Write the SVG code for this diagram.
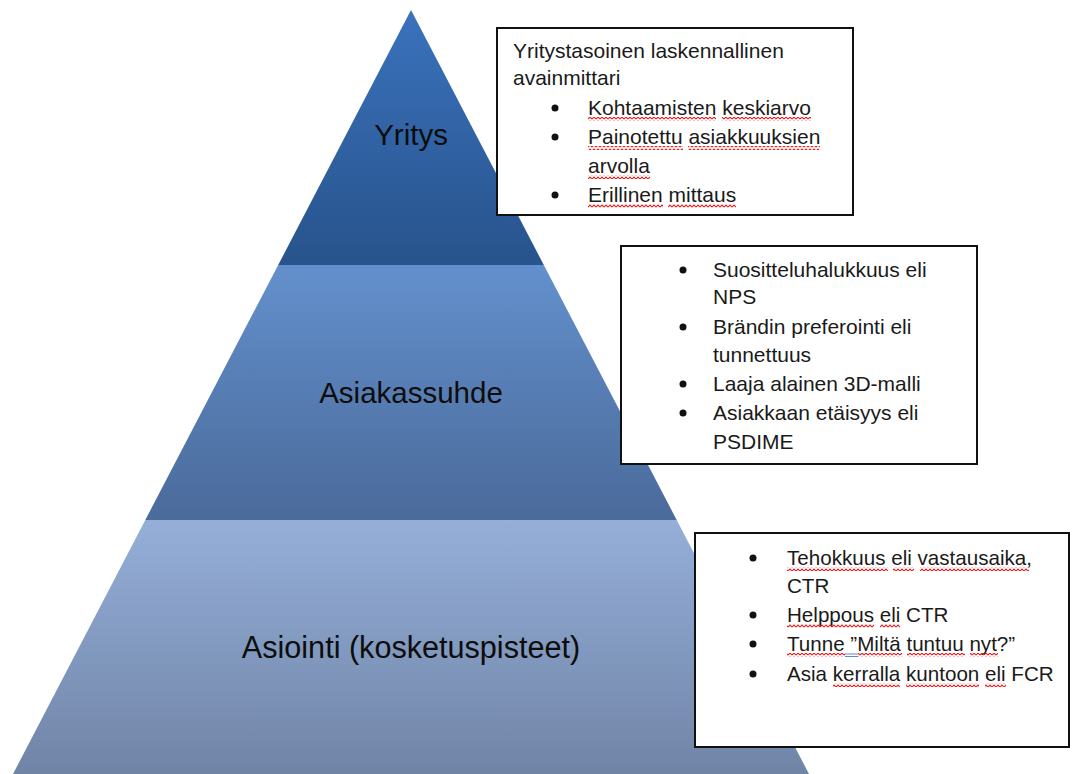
<svg xmlns="http://www.w3.org/2000/svg" width="1075" height="774" viewBox="0 0 1075 774">
  <defs>
    <linearGradient id="gTop" x1="0" y1="0" x2="0" y2="1">
      <stop offset="0" stop-color="#3a72bc"/>
      <stop offset="1" stop-color="#28538c"/>
    </linearGradient>
    <linearGradient id="gMid" x1="0" y1="0" x2="0" y2="1">
      <stop offset="0" stop-color="#6390cc"/>
      <stop offset="1" stop-color="#4a6a9a"/>
    </linearGradient>
    <linearGradient id="gBot" x1="0" y1="0" x2="0" y2="1">
      <stop offset="0" stop-color="#95afd9"/>
      <stop offset="1" stop-color="#7084a6"/>
    </linearGradient>
    <!-- red spell-check squiggle -->
    <pattern id="wavy" patternUnits="userSpaceOnUse" width="4" height="4">
      <path d="M0 3 L2 1 L4 3" fill="none" stroke="#e02424" stroke-width="1.1"/>
    </pattern>
  </defs>
  <style>
    .tier-label { font-family: "Liberation Sans", Arial, sans-serif; font-size: 29.5px; fill: #0d0d0d; text-anchor: middle; }
    .box { fill: #ffffff; stroke: #111111; stroke-width: 2; }
    .txt { font-family: "Liberation Sans", Arial, sans-serif; font-size: 21px; fill: #1a1a1a; }
    .txt-s { font-family: "Liberation Sans", Arial, sans-serif; font-size: 20.6px; fill: #1a1a1a; }
    .dot { fill: #111111; }
    .sq { fill: url(#wavy); }
    .gram { stroke: #4a7ed0; stroke-width: 0.9; }
  </style>

  <rect width="1075" height="774" fill="#ffffff"/>

  <!-- pyramid tiers -->
  <g id="tier-yritys">
    <polygon points="411,10 543.8,265 278.2,265" fill="url(#gTop)"/>
    <text class="tier-label" x="411" y="145">Yritys</text>
  </g>
  <g id="tier-asiakassuhde">
    <polygon points="278.2,265 543.8,265 676.7,520 145.3,520" fill="url(#gMid)"/>
    <text class="tier-label" x="411" y="403">Asiakassuhde</text>
  </g>
  <g id="tier-asiointi">
    <polygon points="145.3,520 676.7,520 809,774 13,774" fill="url(#gBot)"/>
    <text class="tier-label" x="411" y="658" style="font-size:30.6px">Asiointi (kosketuspisteet)</text>
  </g>

  <!-- company level metrics -->
  <g id="box-yritys">
    <rect class="box" x="497" y="28" width="356" height="187"/>
    <text class="txt" x="513" y="58">Yritystasoinen laskennallinen</text>
    <text class="txt" x="513" y="85">avainmittari</text>
    <circle class="dot" cx="555" cy="108" r="3.5"/>
    <text class="txt" x="588" y="115">Kohtaamisten keskiarvo</text>
    <circle class="dot" cx="555" cy="137" r="3.5"/>
    <text class="txt" x="588" y="144">Painotettu asiakkuuksien</text>
    <text class="txt" x="588" y="173">arvolla</text>
    <circle class="dot" cx="555" cy="195" r="3.5"/>
    <text class="txt" x="588" y="202">Erillinen mittaus</text>
    <rect class="sq" x="588" y="117" width="128" height="4"/>
    <rect class="sq" x="722" y="117" width="89" height="4"/>
    <rect class="sq" x="588" y="146" width="95" height="4"/>
    <rect class="sq" x="688" y="146" width="132" height="4"/>
    <rect class="sq" x="588" y="175" width="62" height="4"/>
    <rect class="sq" x="588" y="204" width="75" height="4"/>
    <rect class="sq" x="668" y="204" width="68" height="4"/>
  </g>

  <!-- customer relationship metrics -->
  <g id="box-asiakassuhde">
    <rect class="box" x="621" y="246" width="356" height="218"/>
    <circle class="dot" cx="683" cy="270" r="3.5"/>
    <text class="txt" x="713" y="277">Suositteluhalukkuus eli</text>
    <text class="txt" x="713" y="304">NPS</text>
    <circle class="dot" cx="683" cy="327" r="3.5"/>
    <text class="txt" x="713" y="334">Brändin preferointi eli</text>
    <text class="txt" x="713" y="362">tunnettuus</text>
    <circle class="dot" cx="683" cy="384" r="3.5"/>
    <text class="txt" x="713" y="391">Laaja alainen 3D-malli</text>
    <circle class="dot" cx="683" cy="413" r="3.5"/>
    <text class="txt" x="713" y="420">Asiakkaan etäisyys eli</text>
    <text class="txt" x="713" y="449">PSDIME</text>
  </g>

  <!-- touchpoint metrics -->
  <g id="box-asiointi">
    <rect class="box" x="695" y="533" width="374" height="214"/>
    <circle class="dot" cx="753" cy="558" r="3.5"/>
    <text class="txt-s" x="787" y="565">Tehokkuus eli vastausaika,</text>
    <text class="txt-s" x="787" y="593">CTR</text>
    <circle class="dot" cx="753" cy="615" r="3.5"/>
    <text class="txt-s" x="787" y="622">Helppous eli CTR</text>
    <circle class="dot" cx="753" cy="644" r="3.5"/>
    <text class="txt-s" x="787" y="651">Tunne ”Miltä tuntuu nyt?”</text>
    <circle class="dot" cx="753" cy="674" r="3.5"/>
    <text class="txt-s" x="787" y="681">Asia kerralla kuntoon eli FCR</text>
    <rect class="sq" x="787" y="567" width="101" height="4"/>
    <rect class="sq" x="893" y="567" width="21" height="4"/>
    <rect class="sq" x="920" y="567" width="109" height="4"/>
    <rect class="sq" x="787" y="624" width="87" height="4"/>
    <rect class="sq" x="880" y="624" width="20" height="4"/>
    <rect class="sq" x="787" y="653" width="58" height="4"/>
    <line class="gram" x1="845" y1="654" x2="858" y2="654"/>
    <line class="gram" x1="845" y1="656.5" x2="858" y2="656.5"/>
    <rect class="sq" x="858" y="653" width="44" height="4"/>
    <rect class="sq" x="907" y="653" width="58" height="4"/>
    <rect class="sq" x="970" y="653" width="28" height="4"/>
    <rect class="sq" x="833" y="683" width="67" height="4"/>
    <rect class="sq" x="906" y="683" width="73" height="4"/>
    <rect class="sq" x="985" y="683" width="21" height="4"/>
  </g>
</svg>
